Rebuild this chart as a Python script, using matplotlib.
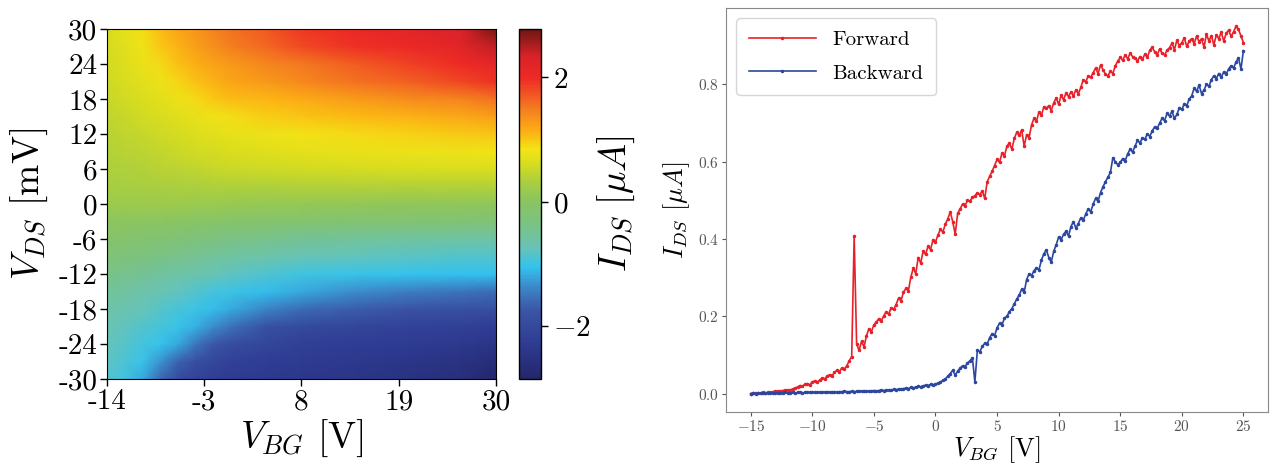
import numpy as np
import matplotlib
matplotlib.use("Agg")
import matplotlib.pyplot as plt
from matplotlib.colors import LinearSegmentedColormap

plt.rcParams["font.family"] = "serif"
plt.rcParams["font.serif"] = ["cmr10"]
plt.rcParams["mathtext.fontset"] = "cm"
plt.rcParams["axes.formatter.use_mathtext"] = True

# Gate / bias grid of the output map
v_bg_nodes = [-14, -12, -10, -8, -6, -4, -2, 0, 4, 8, 14, 20, 26, 30]
v_ds_nodes = [-30, -27, -24, -21, -18, -15, -12, -9, -6, -3, 0,
              3, 6, 9, 12, 15, 18, 21, 24, 27, 30]

# I_DS (uA), one row per V_DS node, columns follow v_bg_nodes
i_map = [
    [-0.85, -0.97, -1.20, -1.60, -1.95, -2.12, -2.22, -2.28, -2.33, -2.38, -2.43, -2.50, -2.60, -2.85],
    [-0.80, -0.90, -1.02, -1.30, -1.65, -1.90, -2.05, -2.15, -2.25, -2.30, -2.36, -2.42, -2.50, -2.65],
    [-0.76, -0.84, -0.94, -1.03, -1.20, -1.50, -1.75, -1.92, -2.08, -2.17, -2.24, -2.30, -2.36, -2.45],
    [-0.70, -0.77, -0.86, -0.93, -1.02, -1.15, -1.35, -1.55, -1.85, -1.98, -2.07, -2.13, -2.18, -2.25],
    [-0.62, -0.68, -0.75, -0.83, -0.92, -1.00, -1.07, -1.18, -1.40, -1.58, -1.70, -1.78, -1.85, -1.90],
    [-0.52, -0.57, -0.63, -0.70, -0.78, -0.86, -0.94, -1.00, -1.08, -1.20, -1.35, -1.45, -1.52, -1.58],
    [-0.40, -0.44, -0.49, -0.55, -0.61, -0.67, -0.73, -0.79, -0.88, -0.96, -1.02, -1.04, -1.05, -1.06],
    [-0.25, -0.28, -0.32, -0.37, -0.42, -0.47, -0.52, -0.57, -0.65, -0.72, -0.78, -0.82, -0.85, -0.87],
    [-0.10, -0.13, -0.17, -0.21, -0.25, -0.29, -0.33, -0.37, -0.43, -0.48, -0.53, -0.57, -0.60, -0.62],
    [0.05, 0.04, 0.02, 0.00, -0.02, -0.04, -0.06, -0.09, -0.13, -0.16, -0.19, -0.21, -0.23, -0.24],
    [0.20, 0.20, 0.20, 0.19, 0.19, 0.18, 0.17, 0.16, 0.14, 0.12, 0.10, 0.09, 0.08, 0.07],
    [0.28, 0.29, 0.30, 0.31, 0.32, 0.33, 0.34, 0.35, 0.36, 0.37, 0.37, 0.37, 0.37, 0.37],
    [0.34, 0.36, 0.38, 0.41, 0.44, 0.47, 0.50, 0.52, 0.55, 0.58, 0.60, 0.62, 0.63, 0.64],
    [0.38, 0.41, 0.44, 0.48, 0.52, 0.56, 0.60, 0.63, 0.68, 0.72, 0.76, 0.78, 0.80, 0.83],
    [0.42, 0.46, 0.50, 0.55, 0.60, 0.65, 0.70, 0.74, 0.80, 0.85, 0.90, 0.94, 0.98, 1.00],
    [0.46, 0.51, 0.56, 0.62, 0.69, 0.75, 0.82, 0.88, 0.96, 1.02, 1.08, 1.13, 1.18, 1.25],
    [0.50, 0.56, 0.63, 0.71, 0.80, 0.90, 0.98, 1.05, 1.10, 1.17, 1.27, 1.38, 1.45, 1.55],
    [0.54, 0.62, 0.70, 0.80, 0.92, 1.03, 1.13, 1.20, 1.30, 1.40, 1.55, 1.68, 1.82, 1.95],
    [0.57, 0.66, 0.76, 0.90, 1.03, 1.15, 1.22, 1.30, 1.42, 1.52, 1.70, 1.85, 2.00, 2.15],
    [0.60, 0.70, 0.82, 0.98, 1.12, 1.25, 1.37, 1.47, 1.63, 1.80, 1.95, 2.05, 2.20, 2.45],
    [0.62, 0.75, 0.88, 1.05, 1.20, 1.32, 1.45, 1.55, 1.72, 1.92, 2.05, 2.15, 2.30, 2.75],
]

# Transfer curves, gate swept in 0.2 V steps
v_sweep = np.linspace(-15, 25, 201)
i_forward = [
    0.000, 0.001, 0.001, 0.002, 0.002, 0.003, 0.002, 0.003, 0.004, 0.005,
    0.006, 0.007, 0.006, 0.008, 0.009, 0.010, 0.009, 0.012, 0.014, 0.017,
    0.021, 0.019, 0.024, 0.026, 0.023, 0.030, 0.033, 0.029, 0.035, 0.040,
    0.038, 0.045, 0.049, 0.046, 0.055, 0.060, 0.057, 0.066, 0.063, 0.072,
    0.085, 0.096, 0.408, 0.128, 0.112, 0.135, 0.121, 0.150, 0.168, 0.160,
    0.178, 0.185, 0.194, 0.188, 0.201, 0.212, 0.205, 0.222, 0.218, 0.230,
    0.247, 0.240, 0.262, 0.272, 0.266, 0.301, 0.325, 0.310, 0.352, 0.338,
    0.368, 0.360, 0.382, 0.372, 0.398, 0.392, 0.410, 0.425, 0.418, 0.438,
    0.452, 0.470, 0.445, 0.412, 0.466, 0.478, 0.490, 0.486, 0.500, 0.498,
    0.508, 0.512, 0.519, 0.515, 0.524, 0.505, 0.548, 0.562, 0.575, 0.590,
    0.606, 0.598, 0.622, 0.615, 0.640, 0.648, 0.632, 0.660, 0.676, 0.668,
    0.682, 0.640, 0.670, 0.662, 0.695, 0.712, 0.705, 0.728, 0.720, 0.742,
    0.738, 0.745, 0.732, 0.752, 0.765, 0.748, 0.772, 0.760, 0.778, 0.768,
    0.780, 0.770, 0.786, 0.776, 0.792, 0.812, 0.806, 0.822, 0.818, 0.830,
    0.842, 0.828, 0.850, 0.838, 0.826, 0.822, 0.834, 0.828, 0.848, 0.860,
    0.870, 0.862, 0.876, 0.866, 0.880, 0.872, 0.868, 0.860, 0.872, 0.865,
    0.878, 0.870, 0.888, 0.896, 0.884, 0.876, 0.892, 0.880, 0.876, 0.888,
    0.895, 0.906, 0.890, 0.914, 0.900, 0.908, 0.920, 0.898, 0.912, 0.918,
    0.905, 0.925, 0.910, 0.918, 0.896, 0.930, 0.912, 0.926, 0.902, 0.928,
    0.918, 0.935, 0.912, 0.932, 0.940, 0.924, 0.936, 0.950, 0.942, 0.925,
    0.908,
]
i_backward = [
    0.000, 0.001, 0.000, 0.001, 0.002, 0.001, 0.001, 0.002, 0.001, 0.002,
    0.002, 0.001, 0.002, 0.002, 0.003, 0.002, 0.002, 0.003, 0.002, 0.003,
    0.003, 0.002, 0.003, 0.004, 0.003, 0.003, 0.004, 0.003, 0.004, 0.004,
    0.004, 0.005, 0.004, 0.004, 0.005, 0.004, 0.005, 0.005, 0.006, 0.005,
    0.005, 0.006, 0.005, 0.006, 0.006, 0.007, 0.006, 0.007, 0.006, 0.007,
    0.008, 0.007, 0.008, 0.009, 0.008, 0.009, 0.010, 0.009, 0.011, 0.010,
    0.012, 0.011, 0.013, 0.014, 0.013, 0.016, 0.015, 0.017, 0.019, 0.018,
    0.020, 0.022, 0.021, 0.024, 0.022, 0.025, 0.027, 0.030, 0.034, 0.038,
    0.045, 0.052, 0.060, 0.048, 0.058, 0.066, 0.072, 0.070, 0.079, 0.085,
    0.092, 0.030, 0.112, 0.108, 0.122, 0.130, 0.128, 0.145, 0.155, 0.150,
    0.170, 0.182, 0.178, 0.195, 0.200, 0.212, 0.220, 0.232, 0.245, 0.255,
    0.270, 0.262, 0.295, 0.310, 0.305, 0.318, 0.325, 0.320, 0.345, 0.362,
    0.372, 0.352, 0.340, 0.368, 0.385, 0.405, 0.398, 0.412, 0.420, 0.408,
    0.432, 0.445, 0.428, 0.440, 0.455, 0.448, 0.465, 0.478, 0.470, 0.490,
    0.505, 0.498, 0.520, 0.535, 0.548, 0.560, 0.572, 0.610, 0.600, 0.592,
    0.598, 0.608, 0.602, 0.620, 0.632, 0.625, 0.640, 0.655, 0.648, 0.662,
    0.658, 0.672, 0.665, 0.680, 0.690, 0.686, 0.700, 0.712, 0.706, 0.725,
    0.718, 0.730, 0.712, 0.722, 0.740, 0.735, 0.750, 0.745, 0.762, 0.770,
    0.790, 0.782, 0.798, 0.776, 0.785, 0.800, 0.795, 0.812, 0.822, 0.815,
    0.828, 0.818, 0.832, 0.826, 0.840, 0.848, 0.842, 0.858, 0.868, 0.840,
    0.887,
]

x_ticks = [-14, -3, 8, 19, 30]
y_ticks = [-30, -24, -18, -12, -6, 0, 6, 12, 18, 24, 30]

# colour map used for the current map
vmin, vmax = -2.85, 2.78
cmap_stops = [
    (-2.85, "#23276b"), (-2.3, "#2e3b92"), (-1.75, "#3b55a6"),
    (-1.35, "#3c8ccc"), (-1.05, "#33c3ef"), (-0.75, "#67c3b8"),
    (-0.3, "#7ec27c"), (0.05, "#8cc55e"), (0.35, "#aed03c"),
    (0.6, "#d6dc20"), (0.85, "#f3e416"), (1.1, "#fcb514"),
    (1.5, "#f47d20"), (2.0, "#ee2a25"), (2.35, "#d8222a"), (2.78, "#6e1712"),
]
cmap = LinearSegmentedColormap.from_list(
    "ids", [((v - vmin) / (vmax - vmin), c) for v, c in cmap_stops])

fig = plt.figure(figsize=(12.72, 4.67), dpi=100)

# ---- left: output map ----
ax1 = fig.add_axes([0.0841, 0.1884, 0.3058, 0.7495])
X, Y = np.meshgrid(v_bg_nodes, v_ds_nodes)
mesh = ax1.pcolormesh(X, Y, np.array(i_map), shading="gouraud",
                      cmap=cmap, vmin=vmin, vmax=vmax)
ax1.set_xlim(-14, 30)
ax1.set_ylim(-30, 30)
ax1.set_xticks(x_ticks)
ax1.set_xticklabels([str(t) for t in x_ticks])
ax1.set_yticks(y_ticks)
ax1.set_yticklabels([str(t) for t in y_ticks])
ax1.tick_params(labelsize=21, length=5, width=1, pad=2)
ax1.set_xlabel(r"$V_{BG}$ [V]", fontsize=27, labelpad=2)
ax1.set_ylabel(r"$V_{DS}$ [mV]", fontsize=27, labelpad=6)

cax = fig.add_axes([0.408, 0.1884, 0.0173, 0.7495])
cb = fig.colorbar(mesh, cax=cax, ticks=[-2, 0, 2])
cb.outline.set_linewidth(1)
cb.ax.tick_params(labelsize=21, length=5, width=1)
cb.set_label(r"$I_{DS}\ [\mu A]$", fontsize=27, labelpad=4)

# ---- right: transfer curves ----
ax2 = fig.add_axes([0.5708, 0.1178, 0.4261, 0.8651])
ax2.plot(v_sweep, i_forward, color="#e8202a", lw=1.2, marker=".",
         ms=3, label="Forward")
ax2.plot(v_sweep, i_backward, color="#2b47a0", lw=1.2, marker=".",
         ms=3, label="Backward")
ax2.set_xticks([-15, -10, -5, 0, 5, 10, 15, 20, 25])
ax2.set_yticks([0.0, 0.2, 0.4, 0.6, 0.8])
ax2.tick_params(labelsize=11, colors="#555555", length=3, pad=2)
for s in ax2.spines.values():
    s.set_color("#888888")
ax2.set_xlabel(r"$V_{BG}$ [V]", fontsize=19, labelpad=0)
ax2.set_ylabel(r"$I_{DS}$ $[\mu A]$", fontsize=19, labelpad=4)
ax2.legend(loc="upper left", fontsize=15, borderpad=0.6,
           handlelength=3.2, labelspacing=0.7)

fig.savefig("out.png", dpi=100)
